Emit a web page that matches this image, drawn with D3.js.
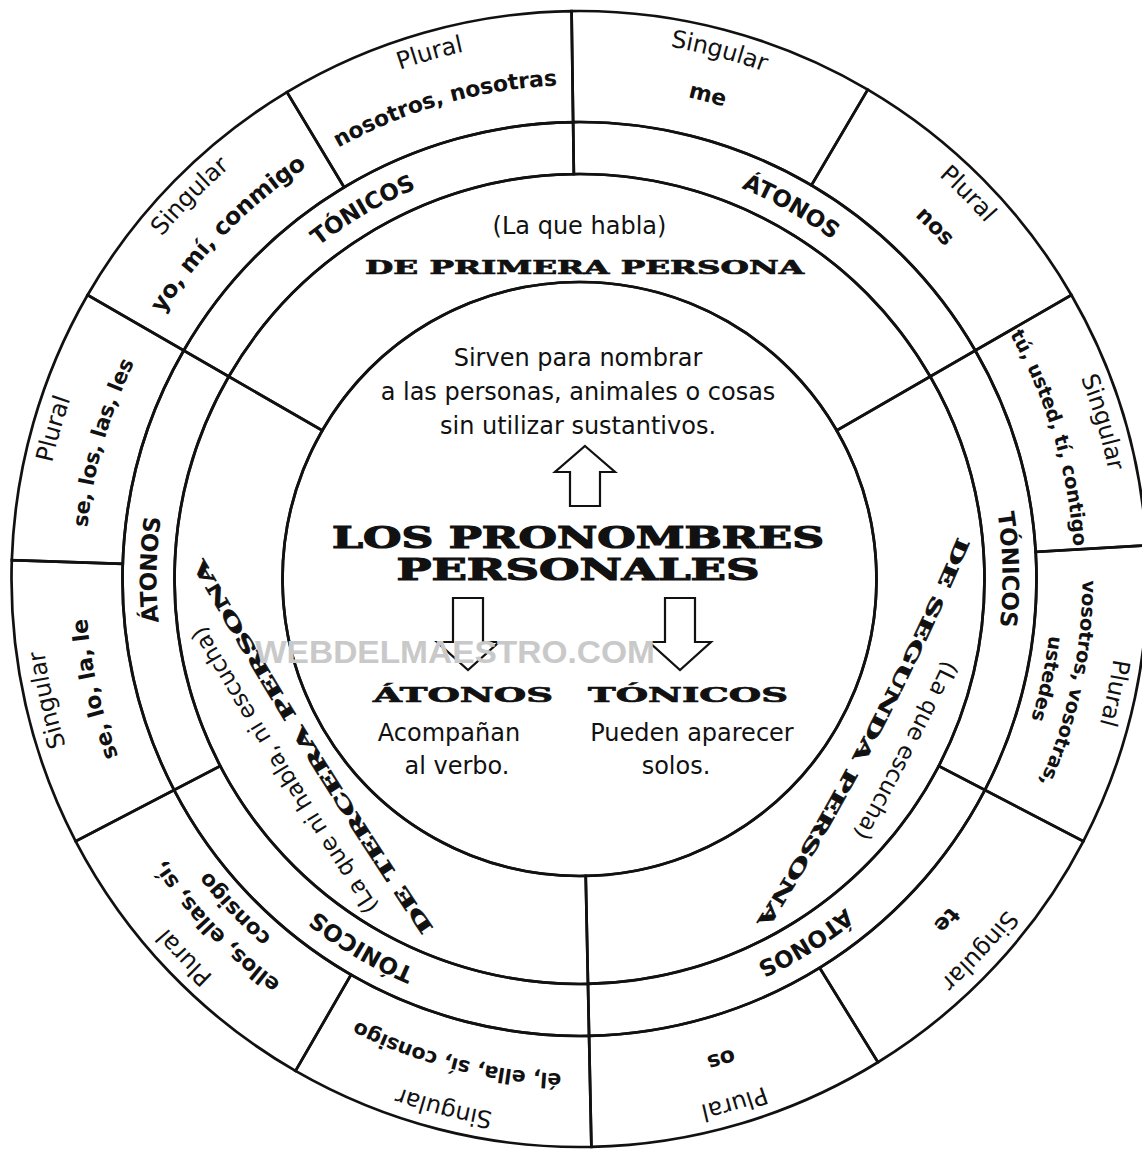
<!DOCTYPE html>
<html><head><meta charset="utf-8">
<script src="https://cdn.jsdelivr.net/npm/d3@7"></script>
<style>html,body{margin:0;padding:0;background:#fff;overflow:hidden}</style>
</head><body>
<svg id="chart" width="1142" height="1151"></svg>
<script>
// ---------- data ----------
const cellDegrees  = [29, 30.2, 31.3, 29.5, 26.6, 30.9, 30.8, 30.5, 31.2, 32.5, 29.4, 28.1];
const cellNumbers  = ["Singular","Plural","Singular","Plural","Singular","Plural","Singular","Plural","Singular","Plural","Singular","Plural"];
const cellPronouns = [["yo, mí, conmigo"],["nosotros, nosotras"],["me"],["nos"],
                      ["tú, usted, tí, contigo"],["vosotros, vosotras,","ustedes"],["te"],["os"],
                      ["él, ella, sí, consigo"],["ellos, ellas, sí,","consigo"],["se, lo, la, le"],["se, los, las, les"]];
const groupNames   = ["TÓNICOS","ÁTONOS","TÓNICOS","ÁTONOS","TÓNICOS","ÁTONOS"];
const personNames  = ["DE PRIMERA PERSONA","DE SEGUNDA PERSONA","DE TERCERA PERSONA"];
const personNotes  = ["(La que habla)","(La que escucha)","(La que ni habla, ni escucha)"];
const definitionLines = ["Sirven para nombrar","a las personas, animales o cosas","sin utilizar sustantivos."];
const titleLines   = ["LOS PRONOMBRES","PERSONALES"];
const branchNames  = ["ÁTONOS","TÓNICOS"];
const branchLines  = [["Acompañan","al verbo."],["Pueden aparecer","solos."]];
const watermark    = "WEBDELMAESTRO.COM";

// ---------- layout / style ----------
const cx = 579.5, cy = 579;
const R0 = 568, R1 = 457, R2 = 405, R3 = 297;
const rad = d => d * Math.PI / 180;
const SANS = "'DejaVu Sans', Verdana, sans-serif";
const SERIF = "'DejaVu Serif', serif";
const pronounSize = [23.5, 22, 22, 22, 19.5, 19.5, 22, 22, 20.5, 21.5, 22, 21];
// guide lines for person titles / notes (index 1 and 2): [startDeg, startR, endDeg, endR, sagitta]
const titleGuide = [null, [85.6, 378, 150.7, 383, 11], [204.4, 378, 271.4, 376, 5]];
const noteGuide  = [null, [102.8, 380, 132.6, 381, 3], [212.6, 389, 261.9, 383, 3]];

const svg = d3.select("#chart");
const defs = svg.append("defs");
const g = svg.append("g").attr("transform", `translate(${cx},${cy})`);

const pie = d3.pie().sort(null).value(d => d).startAngle(rad(-60)).endAngle(rad(300));
const cells = pie(cellDegrees);
const groups = groupNames.map((name, i) => ({name, startAngle: cells[2*i].startAngle, endAngle: cells[2*i+1].endAngle}));
const persons = personNames.map((name, i) => ({name, note: personNotes[i], startAngle: cells[4*i].startAngle, endAngle: cells[4*i+3].endAngle}));

const lineStyle = s => s.attr("fill", "none").attr("stroke", "#111").attr("stroke-width", 2.7);

g.selectAll("path.cell").data(cells).join("path").attr("class","cell")
  .attr("d", d3.arc().innerRadius(R1).outerRadius(R0)).call(lineStyle);
g.selectAll("path.group").data(groups).join("path").attr("class","group")
  .attr("d", d3.arc().innerRadius(R2).outerRadius(R1)).call(lineStyle);
g.selectAll("path.person").data(persons).join("path").attr("class","person")
  .attr("d", d3.arc().innerRadius(R3).outerRadius(R2)).call(lineStyle);
g.append("circle").attr("r", R3).call(lineStyle);

let pid = 0;
const polar = (deg, r) => [r*Math.sin(rad(deg)), -r*Math.cos(rad(deg))];
function arcD(r, a0, a1) {
  const x0 = r*Math.sin(a0), y0 = -r*Math.cos(a0), x1 = r*Math.sin(a1), y1 = -r*Math.cos(a1);
  const large = (a1 - a0) > Math.PI ? 1 : 0;
  return `M${x0},${y0}A${r},${r} 0 ${large} 1 ${x1},${y1}`;
}
function guideD(gd) {
  const [a0, r0, a1, r1, s] = gd;
  let p0 = polar(a0, r0), p1 = polar(a1, r1);
  const dx = p1[0]-p0[0], dy = p1[1]-p0[1], c = Math.hypot(dx, dy);
  // extend both ends a little so the centred text never clips
  const ux = dx/c, uy = dy/c, e = 40;
  p0 = [p0[0]-ux*e, p0[1]-uy*e]; p1 = [p1[0]+ux*e, p1[1]+uy*e];
  const C = c + 2*e;
  const rho = (C*C/4 + s*s) / (2*s);
  return `M${p0[0]},${p0[1]}A${rho},${rho} 0 0 1 ${p1[0]},${p1[1]}`;
}
function pathText(d, txt, attrs, len) {
  const id = "p" + (pid++);
  defs.append("path").attr("id", id).attr("d", d).attr("transform", `translate(${cx},${cy})`);
  const t = svg.append("text").attr("dominant-baseline", "central");
  Object.entries(attrs).forEach(([k, v]) => t.attr(k, v));
  const tp = t.append("textPath").attr("href", "#" + id).attr("startOffset", "50%")
    .attr("text-anchor", "middle").text(txt);
  if (len) tp.attr("textLength", len).attr("lengthAdjust", "spacingAndGlyphs");
  return t;
}
const arcText = (r, mid, half, txt, attrs, len) => pathText(arcD(r, mid - half, mid + half), txt, attrs, len);

// outer ring texts
cells.forEach((c, i) => {
  const mid = (c.startAngle + c.endAngle) / 2;
  arcText(548, mid, rad(40), cellNumbers[i], {"font-family": SANS, "font-size": 24, fill: "#111"});
  const lines = cellPronouns[i];
  const radii = lines.length === 1 ? [502] : [510, 480];
  lines.forEach((ln, j) => arcText(radii[j], mid, rad(40), ln,
    {"font-family": SANS, "font-size": pronounSize[i], "font-weight": "bold", fill: "#111"}));
});

// group ring texts
groups.forEach(gr => {
  const mid = (gr.startAngle + gr.endAngle) / 2;
  arcText(431, mid, rad(40), gr.name, {"font-family": SANS, "font-size": 23, "font-weight": "bold", fill: "#111"});
});

// person ring texts
const heavy = {"font-family": SERIF, "font-weight": "bold", fill: "#111", stroke: "#111", "stroke-width": 0.7};
persons.forEach((p, i) => {
  if (i === 0) {
    g.append("text").attr("x", 0).attr("y", -353).attr("text-anchor", "middle").attr("dominant-baseline", "central")
      .attr("font-family", SANS).attr("font-size", 24).attr("fill", "#111").text(p.note);
    const t = g.append("text").attr("x", 5).attr("y", -312).attr("text-anchor", "middle").attr("dominant-baseline", "central")
      .attr("font-size", 18).attr("textLength", 439).attr("lengthAdjust", "spacingAndGlyphs").text(p.name);
    Object.entries(heavy).forEach(([k, v]) => t.attr(k, v));
  } else {
    pathText(guideD(noteGuide[i]), p.note, {"font-family": SANS, "font-size": 23, fill: "#111"});
    pathText(guideD(titleGuide[i]), p.name, Object.assign({"font-size": 18}, heavy), 436);
  }
});

// centre
const ctr = svg.append("g");
definitionLines.forEach((ln, i) => ctr.append("text").attr("x", 578).attr("y", 358 + i*34)
  .attr("text-anchor", "middle").attr("dominant-baseline", "central")
  .attr("font-family", SANS).attr("font-size", 24).attr("fill", "#111").text(ln));
const titleW = [492, 363];
titleLines.forEach((ln, i) => {
  const t = ctr.append("text").attr("x", 578).attr("y", 537 + i*32)
    .attr("text-anchor", "middle").attr("dominant-baseline", "central").attr("font-size", 30)
    .attr("textLength", titleW[i]).attr("lengthAdjust", "spacingAndGlyphs").text(ln);
  Object.entries(heavy).forEach(([k, v]) => t.attr(k, v));
  t.attr("stroke-width", 1.2);
});

const arrowStyle = s => s.attr("fill", "#fff").attr("stroke", "#111").attr("stroke-width", 2.2).attr("stroke-linejoin", "miter");
ctr.append("path").attr("d", d3.line()([[585,446],[615,472],[600,472],[600,506],[570,506],[570,472],[555,472]]) + "Z").call(arrowStyle);
const downX = [468, 680];
downX.forEach(x => ctr.append("path").attr("d",
  d3.line()([[x-15,598],[x+15,598],[x+15,642],[x+31,642],[x,670],[x-31,642],[x-15,642]]) + "Z").call(arrowStyle));

const branchX = [463, 688];
const branchW = [180, 200];
branchNames.forEach((nm, i) => {
  const t = ctr.append("text").attr("x", branchX[i]).attr("y", 695).attr("text-anchor", "middle").attr("dominant-baseline", "central")
    .attr("font-size", 20).attr("textLength", branchW[i]).attr("lengthAdjust", "spacingAndGlyphs").text(nm);
  Object.entries(heavy).forEach(([k, v]) => t.attr(k, v));
});
const branchLineX = [[449, 457], [692, 676]];
branchLines.forEach((lines, i) => lines.forEach((ln, j) => ctr.append("text")
  .attr("x", branchLineX[i][j]).attr("y", 733 + j*33).attr("text-anchor", "middle").attr("dominant-baseline", "central")
  .attr("font-family", SANS).attr("font-size", 24).attr("fill", "#111").text(ln)));

// watermark
svg.append("text").attr("x", 455).attr("y", 652).attr("text-anchor", "middle").attr("dominant-baseline", "central")
  .attr("font-family", "'Liberation Sans', Arial, sans-serif").attr("font-weight", "bold").attr("font-size", 32)
  .attr("fill", "#c9c9c9").attr("textLength", 400).attr("lengthAdjust", "spacingAndGlyphs").text(watermark);
</script>
</body></html>
